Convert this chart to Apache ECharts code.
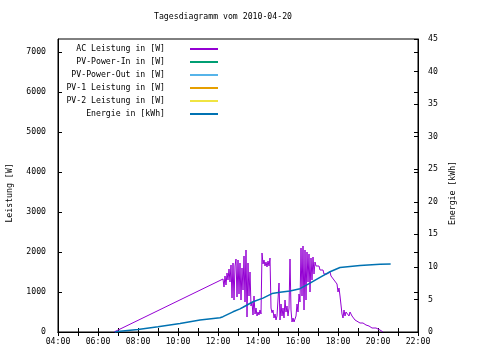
<!DOCTYPE html>
<html><head><meta charset="utf-8">
<script src="https://cdn.jsdelivr.net/npm/echarts@6/dist/echarts.min.js"></script>
<style>html,body{margin:0;padding:0;background:#fff}#c{width:480px;height:360px}</style>
</head><body><div id="c"></div>
<script>
const FONT = 'DejaVu Sans Mono';
const FS = 8.2;
const titleText = 'Tagesdiagramm vom 2010-04-20';
const seriesNames = ['AC Leistung in [W]', 'PV-Power-In in [W]', 'PV-Power-Out in [W]', 'PV-1 Leistung in [W]', 'PV-2 Leistung in [W]', 'Energie in [kWh]'];
const seriesColors = ['#9400d3', '#009e73', '#56b4e9', '#e69f00', '#f0e442', '#0072b2'];
const leftAxisName = 'Leistung [W]';
const rightAxisName = 'Energie [kWh]';

// AC Leistung [W]
const acTimes = ['06:48','12:15','12:18','12:21','12:24','12:27','12:30','12:33','12:36','12:39','12:42','12:45','12:48','12:51','12:54','12:57',
'13:00','13:03','13:06','13:09','13:12','13:15','13:18','13:21','13:24','13:27','13:30','13:33','13:36','13:39','13:42','13:45','13:48','13:51','13:54','13:57',
'14:00','14:03','14:06','14:09','14:12','14:15','14:18','14:21','14:24','14:27','14:30','14:33','14:36','14:39','14:42','14:45','14:48','14:51','14:54','14:57',
'15:00','15:03','15:06','15:09','15:12','15:15','15:18','15:21','15:24','15:27','15:30','15:33','15:36','15:39','15:42','15:45','15:48','15:51','15:54','15:57',
'16:00','16:03','16:06','16:09','16:12','16:15','16:18','16:21','16:24','16:27','16:30','16:33','16:36','16:39','16:42','16:45','16:48','16:51','16:54','16:57',
'17:00','17:03','17:06','17:09','17:12','17:15','17:18','17:21','17:24','17:27','17:30','17:33','17:36','17:39','17:42','17:45','17:48','17:51','17:54','17:57',
'18:00','18:03','18:06','18:09','18:12','18:15','18:18','18:21','18:24','18:27','18:30','18:33','18:36','18:39','18:42','18:45','18:51','18:57',
'19:06','19:15','19:24','19:33','19:42','19:48','19:54','20:00','20:06','20:15'];
const acValues = [0,1325,1125,1400,1175,1475,1300,1575,1250,1675,850,1725,800,1650,1825,875,
1800,950,1725,800,1600,1050,1900,750,2050,375,1725,900,1500,650,750,425,900,450,600,400,
500,425,550,450,1975,1700,1800,1650,1750,1625,1775,1650,1850,600,480,550,350,450,300,400,
350,1225,300,700,400,600,350,800,500,650,400,600,1825,550,250,350,250,300,400,700,
500,950,750,2100,900,2150,550,2050,800,2000,1250,1950,1000,1850,1300,1875,1450,1750,1650,1700,
1600,1650,1550,1600,1500,1550,1450,1500,1400,1450,1400,1450,1500,1400,1450,1350,1300,1250,1250,1200,
1000,1100,900,950,450,350,550,400,500,450,550,400,500,450,400,350,300,250,
225,225,175,150,100,125,100,75,50,0];

// Energie [kWh]
const enTimes = ['06:51','07:06','08:00','09:00','10:06','11:06','12:06','12:15','12:45','13:06','13:15','13:45','14:15','14:42','15:06','15:36','16:06','16:36','17:06','17:36','18:06','18:36','19:06','20:06','20:38'];
const enValues = [0,0.1,0.4,0.8,1.3,1.85,2.2,2.35,3.1,3.55,3.8,4.65,5.2,5.9,6.1,6.3,6.65,7.5,8.4,9.25,9.9,10.05,10.2,10.4,10.45];

function toH(s) { const p = s.split(':'); return Number(p[0]) + Number(p[1]) / 60; }
function pairs(ts, vs) { return ts.map((t, i) => [toH(t), vs[i]]); }

const legendRows = [49, 62, 75, 88, 101, 114];
const txt = { fontFamily: FONT, fontSize: FS, color: '#000' };
const blackLine = { color: '#000', width: 1 };
const plain = v => String(v);

const chart = echarts.init(document.getElementById('c'), null, { renderer: 'canvas' });

const xBase = {
  type: 'value', min: 4, max: 22, interval: 2,
  axisLine: { show: true, lineStyle: blackLine },
  axisTick: { show: true, inside: true, length: 4, lineStyle: blackLine },
  minorTick: { show: true, splitNumber: 2, length: 4, lineStyle: blackLine },
  splitLine: { show: false }, minorSplitLine: { show: false }
};

const seriesList = seriesNames.map((n, i) => ({
  name: n, type: 'line', xAxisIndex: 0, yAxisIndex: i === 5 ? 1 : 0,
  symbol: 'none', showSymbol: false, animation: false,
  lineStyle: { color: seriesColors[i], width: i === 5 ? 1.5 : 1 },
  itemStyle: { color: seriesColors[i] },
  data: i === 0 ? pairs(acTimes, acValues) : (i === 5 ? pairs(enTimes, enValues) : [])
}));

const option = {
  backgroundColor: '#fff',
  animation: false,
  title: { text: titleText, left: 154, top: 13, padding: 0, textStyle: Object.assign({ fontWeight: 'normal' }, txt) },
  grid: { left: 58, right: 62, top: 39, bottom: 28, show: true, borderColor: '#000', borderWidth: 1, backgroundColor: 'transparent', containLabel: false, outerBoundsMode: 'none' },
  legend: seriesNames.map((n, i) => ({
    data: [n], orient: 'vertical', align: 'right', right: 262, top: legendRows[i] - 5,
    padding: 0, itemWidth: 28, itemHeight: 2, icon: 'rect', selectedMode: false,
    textStyle: Object.assign({ padding: [0, 20, 0, 0], lineHeight: 10 }, txt)
  })),
  xAxis: [
    Object.assign({}, xBase, { position: 'bottom',
      axisLabel: Object.assign({ margin: 6, formatter: v => (v < 10 ? '0' : '') + v + ':00', showMinLabel: true, showMaxLabel: true }, txt) }),
    Object.assign({}, xBase, { position: 'top', axisLabel: { show: false } })
  ],
  yAxis: [
    { type: 'value', min: 0, max: 7325, interval: 1000, position: 'left',
      name: leftAxisName, nameLocation: 'middle', nameGap: 44, nameRotate: 90,
      nameTextStyle: Object.assign({ padding: [0, 15, 0, 0] }, txt),
      axisLine: { show: true, lineStyle: blackLine },
      axisTick: { show: true, inside: true, length: 4, lineStyle: blackLine },
      axisLabel: Object.assign({ margin: 12, showMaxLabel: false, formatter: plain }, txt),
      splitLine: { show: false } },
    { type: 'value', min: 0, max: 45, interval: 5, position: 'right',
      name: rightAxisName, nameLocation: 'middle', nameGap: 29, nameRotate: 90,
      nameTextStyle: Object.assign({ padding: [0, 15, 0, 0] }, txt),
      axisLine: { show: true, lineStyle: blackLine },
      axisTick: { show: true, inside: true, length: 4, lineStyle: blackLine },
      axisLabel: Object.assign({ margin: 10, formatter: plain }, txt),
      splitLine: { show: false } },
    { type: 'value', min: 0, max: 7325, interval: 1000, position: 'right',
      axisLine: { show: false },
      axisTick: { show: true, inside: true, length: 4, lineStyle: blackLine },
      axisLabel: { show: false },
      splitLine: { show: false } }
  ],
  series: seriesList
};
chart.setOption(option);
</script>
</body></html>
